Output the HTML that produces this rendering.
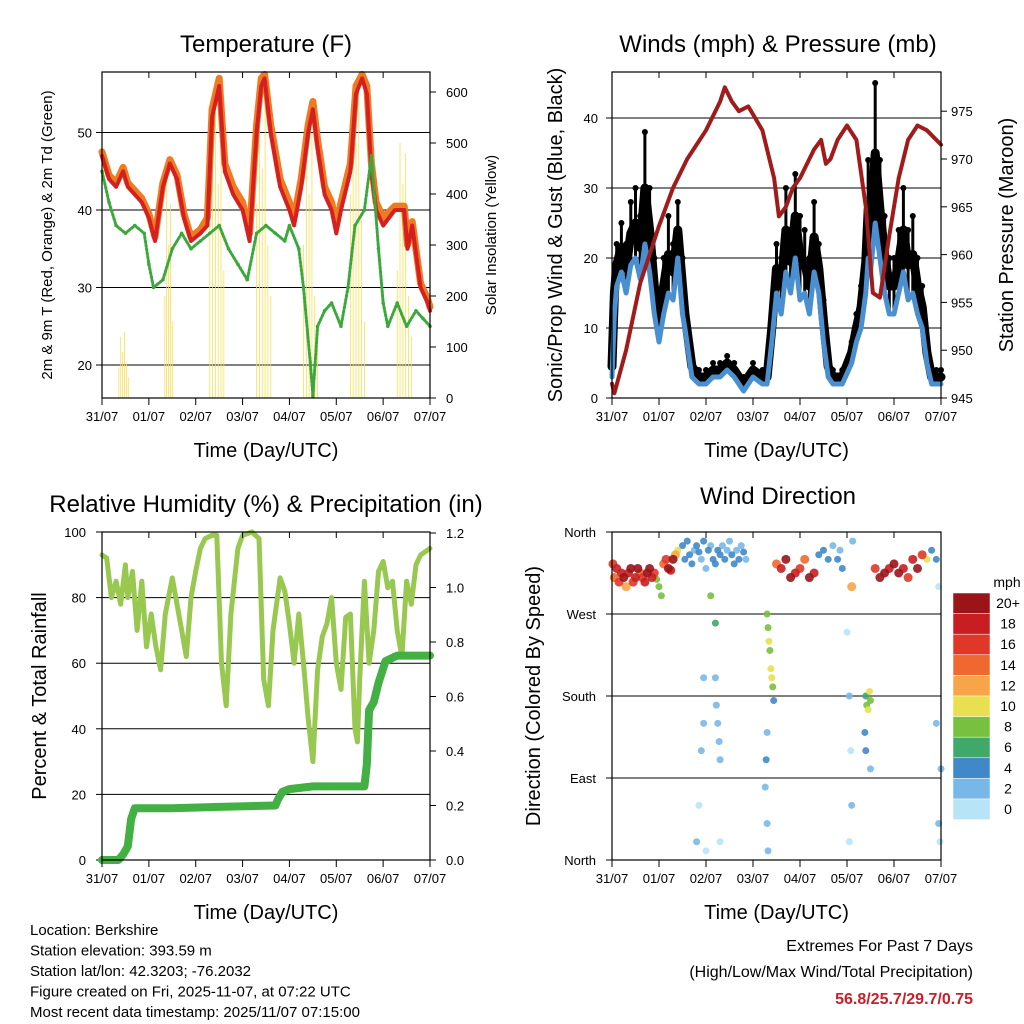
<!DOCTYPE html>
<html><head><meta charset="utf-8"><style>
body{margin:0;background:#fff;}
svg{display:block;font-family:"Liberation Sans",sans-serif;}
</style></head><body>
<svg id="c" width="1024" height="1024" viewBox="0 0 1024 1024"></svg>
<script>
// ---------- DATA ----------
const dayLabels=["31/07","01/07","02/07","03/07","04/07","05/07","06/07","07/07"];
// Temperature panel
const tT=[0,0.15,0.3,0.45,0.55,0.7,0.85,1.0,1.13,1.3,1.45,1.6,1.75,1.9,2.1,2.25,2.35,2.5,2.62,2.8,3.0,3.15,3.3,3.4,3.47,3.6,3.8,4.0,4.1,4.25,4.4,4.5,4.6,4.75,4.9,5.0,5.1,5.3,5.42,5.55,5.65,5.75,5.85,6.0,6.25,6.45,6.52,6.62,6.8,6.95,7.0];
const temp2m=[47,44,43,45,43,42,41,39,36,43,46,44,39,36,37,38,52,56,45,42,40,36,50,56,57,50,43,40,38,43,50,53,48,42,40,37,40,45,55,57,55,45,40,38,40,40,35,38,30,28,27];
const temp9m=[47.5,44.5,43.5,45.5,43.5,42.5,41.5,39.5,36.5,43.5,46.5,44.5,39.5,36.5,37.5,39,53,57,46,43,41,37,51,57,57.5,51,44,41,39,44,51,54,49,43,41,38,41,46,56,57.5,56,46,41,39,40.5,40.5,35.5,38.5,30.5,28.5,27.5];
const tTd=[0,0.15,0.3,0.5,0.7,0.9,1.0,1.1,1.3,1.5,1.7,1.9,2.1,2.3,2.5,2.7,2.9,3.1,3.3,3.5,3.7,3.9,4.0,4.2,4.3,4.45,4.5,4.6,4.75,4.9,5.1,5.25,5.4,5.6,5.75,5.9,6.0,6.1,6.3,6.5,6.7,6.85,7.0];
const dewpt=[45,41,38,37,38,37,33,30,31,35,37,35,36,37,38,35,33,31,37,38,37,36,38,35,30,20,16,25,27,28,25,30,38,40,47,35,28,25,28,25,27,26,25];
const tSol=[0.36,0.4,0.44,0.48,0.52,0.56,1.34,1.38,1.42,1.46,1.5,2.3,2.36,2.42,2.48,2.54,2.6,3.3,3.36,3.42,3.48,3.54,3.6,4.3,4.36,4.42,4.48,4.54,4.6,5.3,5.36,5.42,5.48,5.54,5.6,6.3,6.36,6.42,6.48,6.54,6.6];
const solar=[60,120,90,130,70,40,200,450,300,380,150,350,520,600,420,560,250,380,600,450,580,300,200,300,550,400,520,200,100,400,600,500,580,350,150,250,500,420,480,200,120];
// Winds panel
const tW=[0,0.05,0.1,0.2,0.3,0.4,0.5,0.6,0.7,0.8,0.9,1.0,1.1,1.2,1.3,1.4,1.5,1.55,1.7,1.85,2.0,2.15,2.3,2.45,2.6,2.8,3.0,3.2,3.3,3.4,3.5,3.6,3.7,3.8,3.9,4.0,4.1,4.2,4.3,4.4,4.5,4.6,4.7,4.9,5.1,5.2,5.3,5.4,5.45,5.5,5.6,5.7,5.8,5.9,6.0,6.1,6.2,6.3,6.4,6.5,6.6,6.7,6.8,6.9,7.0];
const windSonic=[3,12,16,18,15,19,20,17,22,18,12,8,12,15,14,20,12,10,3,2,2,3,3,4,3,1,3,2,2,8,15,12,18,15,20,14,15,12,18,15,8,3,2,2,5,8,10,15,20,18,25,20,15,12,12,15,18,14,15,12,10,5,2,2,2];
const windGust=[6,18,22,25,22,28,30,26,38,30,20,14,20,26,22,28,20,14,6,4,4,5,5,6,5,3,5,4,4,12,22,20,30,24,32,26,24,20,28,22,14,6,4,4,8,12,16,24,34,30,45,34,26,20,20,24,30,24,26,20,16,8,4,4,4];
const tP=[0,0.05,0.3,0.6,1.0,1.3,1.6,2.0,2.3,2.4,2.55,2.7,2.9,3.2,3.45,3.55,3.7,3.85,4.0,4.3,4.45,4.55,4.65,4.8,5.0,5.2,5.4,5.55,5.7,5.9,6.1,6.3,6.5,6.7,6.9,7.0];
const pressure=[946.5,945.5,950,957,963,967,970,973,976,977.5,976,975,975.5,973,968,964,965,967,968,971,972,969.5,970,972,973.5,972,965,956,955.5,962,968,972,973.5,973,972,971.5];
// RH & precip panel
const tRH=[0,0.1,0.2,0.3,0.4,0.5,0.55,0.65,0.75,0.85,0.95,1.05,1.15,1.25,1.35,1.5,1.6,1.7,1.8,1.9,2.0,2.1,2.2,2.35,2.45,2.55,2.65,2.75,2.9,3.0,3.2,3.35,3.45,3.55,3.65,3.8,3.9,4.0,4.1,4.2,4.3,4.4,4.5,4.6,4.7,4.8,4.9,5.0,5.1,5.2,5.3,5.4,5.45,5.5,5.6,5.7,5.8,5.9,6.0,6.1,6.2,6.3,6.4,6.5,6.6,6.7,6.8,7.0];
const rh=[93,92,80,85,78,90,80,88,70,85,65,75,65,58,75,86,78,70,62,80,88,95,98,99,99,60,47,75,95,99,100,98,55,47,70,86,82,72,60,75,60,43,30,58,68,72,80,60,52,74,75,40,36,55,85,60,70,88,91,83,85,70,62,85,78,90,93,95];
const tPr=[0,0.35,0.45,0.55,0.62,0.7,1.5,2.5,3.7,3.75,3.85,4.0,4.5,5.6,5.65,5.7,5.8,5.9,6.05,6.3,7.0];
const precip=[0,0,0.02,0.05,0.15,0.19,0.19,0.195,0.2,0.22,0.25,0.26,0.27,0.27,0.35,0.55,0.58,0.65,0.73,0.75,0.75];
// Wind direction panel
const dirT=[0.02,0.05,0.1,0.15,0.2,0.25,0.3,0.35,0.4,0.45,0.5,0.55,0.6,0.65,0.7,0.75,0.8,0.85,0.9,0.95,1.0,1.05,1.1,1.15,1.2,1.25,1.3,1.35,1.4,1.5,1.55,1.6,1.65,1.7,1.75,1.8,1.85,1.9,1.95,2.0,2.05,2.1,2.15,2.2,2.25,2.3,2.35,2.4,2.45,2.5,2.55,2.6,2.65,2.7,2.75,2.8,2.85,2.2,2.22,2.25,2.28,2.3,2.3,1.8,1.85,1.9,1.95,2.0,1.95,2.1,2.2,3.3,3.32,3.34,3.36,3.38,3.4,3.42,3.44,3.3,3.28,3.26,3.3,3.32,3.5,3.6,3.7,3.8,3.9,4.0,4.1,4.2,4.3,4.4,4.5,4.6,4.7,4.8,4.85,4.9,5.0,5.05,5.08,5.1,5.05,5.1,5.12,5.4,5.42,5.45,5.48,5.5,5.38,5.4,5.5,5.6,5.7,5.8,5.9,6.0,6.1,6.2,6.3,6.4,6.5,6.6,6.7,6.8,6.9,7.0,6.95,6.98,6.9,6.95,6.98,6.92];
const dirD=[325,310,320,305,315,310,300,315,320,305,310,320,315,310,305,315,320,310,315,308,300,290,325,330,320,318,330,335,340,345,330,350,335,325,340,345,338,330,350,320,340,345,330,325,340,335,345,330,340,350,335,325,340,330,345,338,330,200,170,150,130,110,20,20,60,120,150,10,200,290,260,270,255,240,230,210,200,190,175,140,110,80,40,10,325,320,330,310,315,320,330,310,315,335,340,330,345,330,340,320,250,180,120,60,20,300,350,180,170,165,185,175,140,120,100,320,310,315,320,325,315,320,310,330,320,335,330,340,150,100,40,20,330,300];
const dirS=[16,14,18,15,17,19,12,18,20,15,17,20,13,16,18,19,20,17,15,8,8,7,14,16,19,18,20,12,9,3,3,3,3,3,2,4,3,2,3,2,3,2,3,4,3,3,2,3,2,2,3,3,2,3,2,3,2,1,1,1,2,1,0,1,0,1,2,0,1,8,6,7,7,9,8,10,9,8,3,2,3,1,1,1,14,17,19,20,18,16,13,19,18,3,3,4,2,3,2,3,0,1,0,1,0,12,2,6,8,10,9,7,4,3,2,16,19,20,17,20,19,18,15,18,20,16,9,3,1,2,1,0,3,0];
const cbLabels=["20+","18","16","14","12","10","8","6","4","2","0"];
const cbColors=["#9a1418","#c81e22","#e03828","#f06830","#f8a448","#e8e050","#78c040","#40a868","#4088c8","#78b8e8","#b8e4f8"];
// ---------- DRAW ----------
const NS="http://www.w3.org/2000/svg";
const svg=document.getElementById('c');
function mk(tag,at,parent){const e=document.createElementNS(NS,tag);for(const k in at)e.setAttribute(k,at[k]);(parent||svg).appendChild(e);return e;}
function txt(x,y,s,size,anchor,rot,fill,weight){const e=mk('text',{x:x,y:y,'font-size':size,'text-anchor':anchor||'middle',fill:fill||'#000'});if(weight)e.setAttribute('font-weight',weight);if(rot)e.setAttribute('transform','rotate('+rot+' '+x+' '+y+')');e.textContent=s;return e;}
function line(x1,y1,x2,y2,w,c){return mk('line',{x1:x1,y1:y1,x2:x2,y2:y2,stroke:c||'#000','stroke-width':w||1});}
function poly(xs,ys,fx,fy,c,w){let d='';for(let i=0;i<xs.length;i++)d+=(i?'L':'M')+fx(xs[i]).toFixed(1)+' '+fy(ys[i]).toFixed(1);return mk('path',{d:d,fill:'none',stroke:c,'stroke-width':w,'stroke-linejoin':'round','stroke-linecap':'round'});}

function xAxis(x0,x1,yb,yt){const dx=(x1-x0)/7;
 for(let i=0;i<8;i++){const x=x0+i*dx;line(x,yb,x,yb+7,1);line(x,yt,x,yt+6,1);
  const t=txt(x,yb+23,dayLabels[i],13);}
 const t=txt((x0+x1)/2,yb+59,"Time (Day/UTC)",20);}
function frame(x0,y0,x1,y1){const r=mk('rect',{x:x0,y:y0,width:x1-x0,height:y1-y0,fill:'none',stroke:'#000','stroke-width':1.2});}

// Panel 1
const X1=t=>102+t*46.86, YT=v=>365-(v-20)*7.75, YS=v=>398-v*0.51;
txt(266,52,"Temperature (F)",24);
[20,30,40,50].forEach(v=>{line(102,YT(v),430,YT(v),1);line(96,YT(v),102,YT(v),1);const t=txt(92,YT(v)+5,v,13,'end');});
[0,100,200,300,400,500,600].forEach(v=>{line(430,YS(v),436,YS(v),1);const t=txt(446,YS(v)+5,v,13,'start');});
for(let i=0;i<tSol.length;i++){const l=line(X1(tSol[i]),398,X1(tSol[i]),YS(solar[i]),0.8,'#f8e050');}
poly(tT,temp9m,X1,YT,'#f07a20',7);
poly(tT,temp2m,X1,YT,'#d42020',4);
poly(tTd,dewpt,X1,YT,'#3ca83c',3).setAttribute('stroke-dasharray','2 2');
for(let i=0;i<tTd.length;i++){const c=mk('circle',{cx:X1(tTd[i]),cy:YT(dewpt[i]),r:1.8,fill:'#3ca83c'});}
frame(102,72,430,398);xAxis(102,430,398,72);
txt(52,235,"2m & 9m T (Red, Orange) & 2m Td (Green)",15,'middle',-90);
txt(496,235,"Solar Insolation (Yellow)",15,'middle',-90);

// Panel 2
const X2=t=>612+t*47, YW=v=>398-v*7, YP=v=>398-(v-945)*9.56;
txt(778,52,"Winds (mph) & Pressure (mb)",24);
[0,10,20,30,40].forEach(v=>{if(v>0)line(612,YW(v),941,YW(v),1);line(606,YW(v),612,YW(v),1);const t=txt(598,YW(v)+5,v,13,'end');});
[945,950,955,960,965,970,975].forEach(v=>{line(941,YP(v),947,YP(v),1);const t=txt(951,YP(v)+5,v,13,'start');});
poly(tW,windGust.map((g,i)=>(g+windSonic[i])/2),X2,YW,'#000',9);
for(let i=0;i<tW.length;i++){const c=mk('circle',{cx:X2(tW[i]),cy:YW(windGust[i]),r:3,fill:'#000'});
 const l=line(X2(tW[i]),YW(windGust[i]),X2(tW[i]),YW(windSonic[i]),3,'#000');}
poly(tW,windSonic,X2,YW,'#4a90d0',5);
poly(tP,pressure,X2,YP,'#a01c1c',4);
frame(612,72,941,398);xAxis(612,941,398,72);
txt(562,235,"Sonic/Prop Wind & Gust (Blue, Black)",20,'middle',-90);
txt(1013,235,"Station Pressure (Maroon)",20,'middle',-90);

// Panel 3
const X3=X1, YR=v=>860-v*3.28, YPr=v=>860-v*272.5;
txt(266,512,"Relative Humidity (%) & Precipitation (in)",24);
[0,20,40,60,80,100].forEach(v=>{if(v>0&&v<100)line(102,YR(v),430,YR(v),1);line(96,YR(v),102,YR(v),1);const t=txt(86,YR(v)+5,v,13,'end');});
["0.0","0.2","0.4","0.6","0.8","1.0","1.2"].forEach(s=>{const v=+s;line(430,YPr(v),436,YPr(v),1);const t=txt(446,YPr(v)+5,s,13,'start');});
poly(tRH,rh,X3,YR,'#98c850',5);
poly(tPr,precip,X3,YPr,'#42b043',8);
frame(102,532,430,860);xAxis(102,430,860,532);
txt(46,696,"Percent & Total Rainfall",20,'middle',-90);

// Panel 4
const X4=X2, YD=d=>860-d*(328/360);
txt(778,504,"Wind Direction",24);
[["North",360],["West",270],["South",180],["East",90],["North",0]].forEach(a=>{const y=YD(a[1]);if(a[1]>0&&a[1]<360)line(612,y,941,y,1);line(606,y,612,y,1);const t=txt(596,y+5,a[0],13,'end');});
function spdColor(s){const i=Math.min(10,Math.floor((s+1)/2));return cbColors[10-i];}
const order=dirS.map((s,i)=>i).sort((a,b)=>dirS[a]-dirS[b]);
order.forEach(i=>{const c=mk('circle',{cx:X4(dirT[i]),cy:YD(dirD[i]),r:dirS[i]>10?4.5:3.5,fill:spdColor(dirS[i]),opacity:0.9});});
frame(612,532,941,860);xAxis(612,941,860,532);
txt(540,696,"Direction (Colored By Speed)",20,'middle',-90);
txt(1007,587,"mph",14);
cbLabels.forEach((s,i)=>{const y=593+i*20.6;const r=mk('rect',{x:953,y:y,width:37,height:20.6,fill:cbColors[i],stroke:'#fff','stroke-width':0.5});const t=txt(1008,y+15,s,14);});

// Footer
["Location: Berkshire","Station elevation: 393.59 m","Station lat/lon: 42.3203; -76.2032","Figure created on Fri, 2025-11-07, at 07:22 UTC","Most recent data timestamp: 2025/11/07 07:15:00"].forEach((s,i)=>{const t=txt(30,935+i*20.5,s,15,'start');});
txt(973,951,"Extremes For Past 7 Days",16,'end');
txt(973,977,"(High/Low/Max Wind/Total Precipitation)",16,'end');
txt(973,1004,"56.8/25.7/29.7/0.75",16,'end','', '#c8202a','bold');
</script>
</body></html>
